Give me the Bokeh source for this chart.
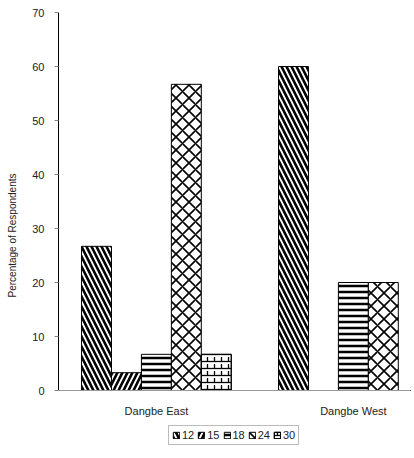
from bokeh.plotting import figure
from bokeh.models import Range1d, FixedTicker, Legend, LegendItem, ColumnDataSource, Span
from bokeh.core.properties import value
from bokeh.embed import file_html
from bokeh.resources import INLINE

# Age groups (series) and districts (categories)
districts = ["Dangbe East", "Dangbe West"]
ages = ["12", "15", "18", "24", "30"]
east = [26.7, 3.3, 6.7, 56.7, 6.7]
west = [60.0, 0.0, 20.0, 20.0, 0.0]
y_ticks = [0, 10, 20, 30, 40, 50, 60, 70]

FONT = "Liberation Sans"
TXT = "#222222"
BAR_W = 0.152

# the frame runs below zero so the category names and legend sit inside it
p = figure(width=414, height=458, output_backend="svg", toolbar_location=None,
           x_range=Range1d(-0.497, 1.29), y_range=Range1d(-12.59, 70),
           min_border_left=58, min_border_right=4, min_border_top=12, min_border_bottom=0)
p.outline_line_color = None
p.xgrid.visible = False
p.ygrid.visible = False
p.background_fill_color = "white"
p.xaxis.visible = False

# hatch styles per age group: (pattern, scale, weight)
styles = {
    "12": [("left_diagonal_line", 10, 2.6)],
    "15": [("right_diagonal_line", 10, 2.6)],
    "18": [("horizontal_line", 6, 2.5)],
    "24": [("diagonal_cross", 13, 1.6)],
    "30": [("horizontal_line", 7, 1.3), ("vertical_dash", 7, 1.3)],
}

items = []
for k, age in enumerate(ages):
    vals = [east[k], west[k]]
    xs = [i + (k - 2) * BAR_W for i in range(len(districts))]
    src = ColumnDataSource(dict(x=xs, top=vals))
    rends = []
    for j, (pat, sc, wt) in enumerate(styles[age]):
        r = p.vbar(x="x", top="top", bottom=0, width=BAR_W, source=src,
                   fill_color="white" if j == 0 else None,
                   line_color="black", line_width=1,
                   hatch_pattern=pat, hatch_scale=sc, hatch_weight=wt,
                   hatch_color="black")
        rends.append(r)
    items.append(LegendItem(label=age, renderers=rends))

# baseline
p.add_layout(Span(location=0, dimension="width", line_color="#999999", line_width=1))

# district names under each group
p.text(x=list(range(len(districts))), y=[0] * len(districts), text=districts,
       text_align="center", text_baseline="top", y_offset=14,
       text_font=value(FONT), text_font_size="11px", text_color=TXT)

# y axis
ya = p.yaxis[0]
ya.bounds = (0, 70)
ya.ticker = FixedTicker(ticks=y_ticks)
ya.axis_label = "Percentage of Respondents"
ya.axis_label_text_font = FONT
ya.axis_label_text_font_size = "10px"
ya.axis_label_text_font_style = "normal"
ya.axis_label_text_color = TXT
ya.axis_label_standoff = 11
ya.major_label_text_font = FONT
ya.major_label_text_font_size = "11px"
ya.major_label_text_color = TXT
ya.major_label_standoff = 10
ya.major_tick_in = 0
ya.major_tick_out = 4
ya.major_tick_line_color = "#888888"
ya.minor_tick_line_color = None
ya.axis_line_color = "black"

legend = Legend(items=items, orientation="horizontal", location=(110, 13),
                glyph_width=8, glyph_height=8, label_text_font=FONT,
                label_text_font_size="11px", label_text_color=TXT,
                label_standoff=2, spacing=3, label_width=12,
                padding=3, margin=0, border_line_color="#777777",
                label_height=11)
p.add_layout(legend)

open("out.html", "w").write(file_html(p, INLINE))
